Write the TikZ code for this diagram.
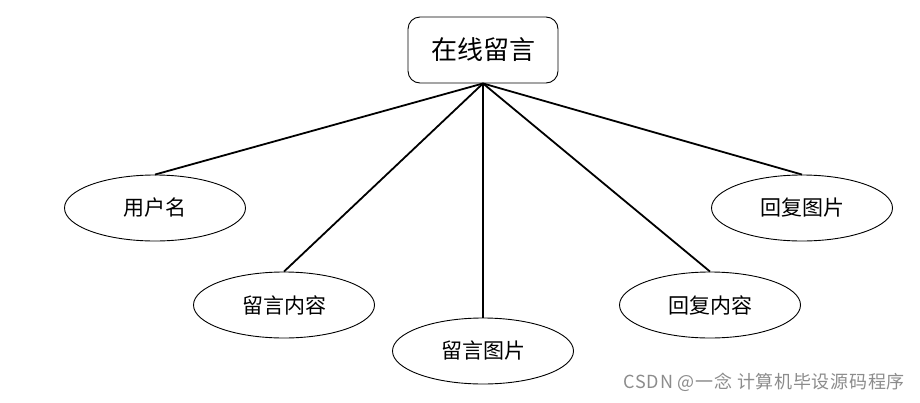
\documentclass[tikz,border=0pt]{standalone}
\usepackage{fontspec}
\newfontfamily\cjk{Noto Sans CJK SC}
\newfontfamily\cjkw[LetterSpace=4]{Noto Sans CJK SC}
\usetikzlibrary{shapes.geometric}
\begin{document}
\begin{tikzpicture}[x=1pt,y=-1pt,
  topbox/.style={draw=black, line width=0.9pt, rounded corners=12pt, minimum width=150pt, minimum height=66pt, inner sep=0pt, font=\cjk\fontsize{26}{30}\selectfont},
  attr/.style={draw=black, line width=0.9pt, ellipse, minimum width=181pt, minimum height=66pt, inner sep=0pt, font=\cjk\fontsize{21}{24}\selectfont},
  link/.style={line width=1.8pt}]
\useasboundingbox (0,0) rectangle (920,402);
\node[topbox] (top) at (483,50) {在线留言};
\node[attr] (a1) at (155,208) {用户名};
\node[attr] (a2) at (284,305) {留言内容};
\node[attr] (a3) at (483,351) {留言图片};
\node[attr] (a4) at (710,305) {回复内容};
\node[attr] (a5) at (802,208) {回复图片};
\draw[link] (top.south) -- (a1.north);
\draw[link] (top.south) -- (a2.north);
\draw[link] (top.south) -- (a3.north);
\draw[link] (top.south) -- (a4.north);
\draw[link] (top.south) -- (a5.north);
\node[anchor=east, text=black!45, font=\cjkw\fontsize{18}{20}\selectfont, inner sep=0pt] (wm) at (905,382) {CSDN @一念 计算机毕设源码程序};
\end{tikzpicture}
\end{document}
